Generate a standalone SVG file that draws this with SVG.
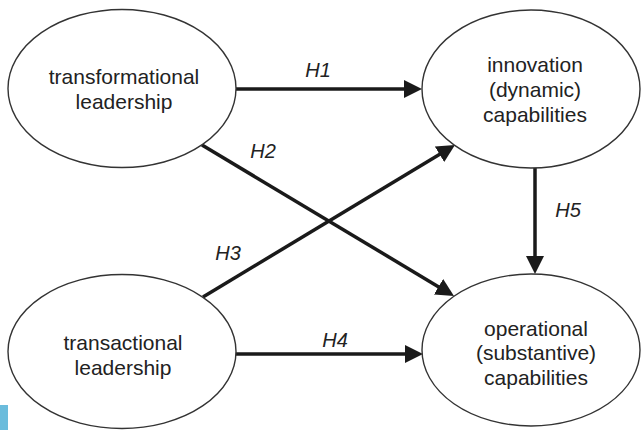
<svg xmlns="http://www.w3.org/2000/svg" width="643" height="430" viewBox="0 0 643 430">
<style>
.node ellipse{fill:#fff;stroke:#333;stroke-width:1.4}
.node text{font-family:"Liberation Sans",Arial,sans-serif;font-size:21px;fill:#222;text-anchor:middle}
.lbl{font-family:"Liberation Sans",Arial,sans-serif;font-size:20px;font-style:italic;fill:#222;text-anchor:middle}
.edge{stroke:#1a1a1a;stroke-width:3.5;fill:none;marker-end:url(#arr)}
</style>
<defs>
<marker id="arr" viewBox="0 0 18 18" refX="8" refY="9" markerWidth="18" markerHeight="18" markerUnits="userSpaceOnUse" orient="auto">
<path d="M0,0 L18,9 L0,18 Z" fill="#1a1a1a"/>
</marker>
</defs>
<rect width="643" height="430" fill="#fff"/>
<rect x="0" y="405" width="8" height="25" fill="#6bbcdc"/>
<g id="connectors">
<line class="edge" x1="236" y1="89" x2="412" y2="89"/>
<line class="edge" x1="202" y1="145" x2="445.4" y2="290.9"/>
<line class="edge" x1="203" y1="297" x2="446.4" y2="150.2"/>
<line class="edge" x1="235" y1="354" x2="413" y2="354"/>
<line class="edge" x1="535" y1="168" x2="535" y2="264"/>
<text class="lbl" x="318" y="77">H1</text>
<text class="lbl" x="263" y="158">H2</text>
<text class="lbl" x="228" y="260">H3</text>
<text class="lbl" x="335" y="347">H4</text>
<text class="lbl" x="568" y="217">H5</text>
</g>
<g id="transformational" class="node">
<ellipse cx="122" cy="88.5" rx="114" ry="79"/>
<text x="124" y="84">transformational</text>
<text x="124" y="109">leadership</text>
</g>
<g id="innovation" class="node">
<ellipse cx="531" cy="89" rx="109" ry="79"/>
<text x="535" y="72">innovation</text>
<text x="535" y="97">(dynamic)</text>
<text x="535" y="122">capabilities</text>
</g>
<g id="transactional" class="node">
<ellipse cx="122" cy="351.5" rx="114" ry="77"/>
<text x="123" y="350">transactional</text>
<text x="123" y="375">leadership</text>
</g>
<g id="operational" class="node">
<ellipse cx="531" cy="350" rx="109" ry="76"/>
<text x="536" y="336">operational</text>
<text x="536" y="360">(substantive)</text>
<text x="536" y="385">capabilities</text>
</g>
</svg>
